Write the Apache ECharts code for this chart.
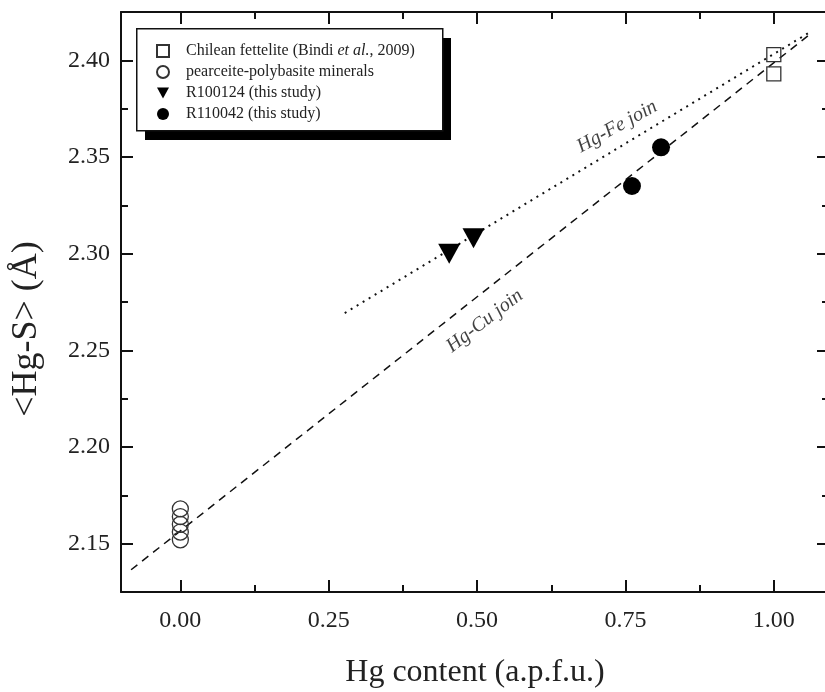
<!DOCTYPE html>
<html lang="en">
<head>
    <meta charset="UTF-8">
    <script src="https://cdn.jsdelivr.net/npm/echarts@6/dist/echarts.min.js"></script>
    <title>Hg-S bond length vs Hg content</title>
    <style>
        html, body { margin: 0; padding: 0; background: #fff; }
        #main { width: 825px; height: 692px; }
    </style>
</head>
<body>
    <div id="main"></div>
    <script>
        // data
        var fettelite = [[1.00, 2.403], [1.00, 2.393]];
        var pearceite = [[0, 2.152], [0, 2.156], [0, 2.160], [0, 2.164], [0, 2.168]];
        var r100124 = [[0.453, 2.300], [0.494, 2.308]];
        var r110042 = [[0.761, 2.335], [0.810, 2.355]];
        var feJoin = [[0.277, 2.2693], [1.061, 2.4146]];
        var cuJoin = [[-0.083, 2.1365], [1.061, 2.4135]];
        var joinLabels = [
            { text: 'Hg-Fe join', x: 0.736, y: 2.3657, angle: 29 },
            { text: 'Hg-Cu join', x: 0.513, y: 2.2652, angle: 37.5 }
        ];

        var xRange = [-0.1, 1.093];
        var yRange = [2.125, 2.425];
        var xMajor = [0, 0.25, 0.5, 0.75, 1.0];
        var xMinor = [0.125, 0.375, 0.625, 0.875];
        var yMajor = [2.15, 2.20, 2.25, 2.30, 2.35, 2.40];
        var yMinor = [2.175, 2.225, 2.275, 2.325, 2.375];

        var serif = 'Liberation Serif';
        var names = ['Chilean fettelite (Bindi et al., 2009)', 'pearceite-polybasite minerals',
                     'R100124 (this study)', 'R110042 (this study)'];
        var downTriangle = 'path://M0,0 L20,0 L10,18 Z';

        var chart = echarts.init(document.getElementById('main'));

        function axisX(grid, pos, ticks, len, main) {
            return {
                type: 'value', gridIndex: grid, position: pos,
                min: xRange[0], max: xRange[1],
                axisLine: { show: main, onZero: false, lineStyle: { color: '#111', width: 2 } },
                axisTick: { show: true, inside: true, length: len, customValues: ticks,
                            lineStyle: { color: '#111', width: 2 } },
                axisLabel: { show: main && pos === 'bottom', customValues: ticks, margin: 17,
                             fontFamily: serif, fontSize: 24, color: '#222',
                             formatter: function (v) { return v.toFixed(2); } },
                splitLine: { show: false },
                name: (main && pos === 'bottom') ? 'Hg content (a.p.f.u.)' : '',
                nameLocation: 'middle', nameGap: 65,
                nameTextStyle: { fontFamily: serif, fontSize: 32, color: '#222' }
            };
        }

        function axisY(grid, pos, ticks, len, main) {
            return {
                type: 'value', gridIndex: grid, position: pos,
                min: yRange[0], max: yRange[1],
                axisLine: { show: main, onZero: false, lineStyle: { color: '#111', width: 2 } },
                axisTick: { show: true, inside: true, length: len, customValues: ticks,
                            lineStyle: { color: '#111', width: 2 } },
                axisLabel: { show: main && pos === 'left', customValues: ticks, margin: 11,
                             fontFamily: serif, fontSize: 24, color: '#222',
                             formatter: function (v) { return v.toFixed(2); } },
                splitLine: { show: false },
                name: (main && pos === 'left') ? '<Hg-S> (Å)' : '',
                nameLocation: 'middle', nameGap: 76, nameRotate: 90,
                nameTextStyle: { fontFamily: serif, fontSize: 36, color: '#222', padding: [0, 54, 0, 0] }
            };
        }

        var option = {
            animation: false,
            backgroundColor: '#fff',
            grid: [
                { left: 121, top: 12, width: 708, height: 580, outerBoundsMode: 'none' },
                { left: 121, top: 12, width: 708, height: 580, outerBoundsMode: 'none' }
            ],
            xAxis: [
                axisX(0, 'bottom', xMajor, 12, true),
                axisX(0, 'top', xMajor, 12, true),
                axisX(1, 'bottom', xMinor, 7, false),
                axisX(1, 'top', xMinor, 7, false)
            ],
            yAxis: [
                axisY(0, 'left', yMajor, 12, true),
                axisY(0, 'right', yMajor, 12, true),
                axisY(1, 'left', yMinor, 7, false),
                axisY(1, 'right', yMinor, 7, false)
            ],
            // legend frame with its hard black shadow
            graphic: [
                { type: 'rect', left: 145, top: 38, z: 10,
                  shape: { width: 306, height: 102 }, style: { fill: '#000' } },
                { type: 'rect', left: 136, top: 28, z: 11,
                  shape: { width: 306, height: 102 },
                  style: { fill: '#fff', stroke: '#111', lineWidth: 1.5 } }
            ],
            legend: {
                data: names,
                orient: 'vertical',
                left: 136, top: 28, z: 12,
                padding: [15, 0, 0, 20],
                itemGap: 5, itemWidth: 12, itemHeight: 12,
                selectedMode: false,
                textStyle: {
                    fontFamily: serif, fontSize: 16, lineHeight: 15, color: '#222', padding: [0, 0, 0, 12],
                    rich: { i: { fontFamily: serif, fontSize: 16, lineHeight: 15, fontStyle: 'italic', color: '#222' } }
                },
                formatter: function (n) {
                    return n === names[0] ? 'Chilean fettelite (Bindi {i|et al.}, 2009)' : n;
                }
            },
            series: [
                { name: 'Hg-Fe join', type: 'line', data: feJoin, symbol: 'none',
                  lineStyle: { color: '#111', width: 2, type: [2, 5] }, z: 1 },
                { name: 'Hg-Cu join', type: 'line', data: cuJoin, symbol: 'none',
                  lineStyle: { color: '#111', width: 1.5, type: [8, 6] }, z: 1 },
                { name: names[0], type: 'scatter', data: fettelite, symbol: 'rect', symbolSize: 14,
                  itemStyle: { color: 'rgba(255,255,255,0)', borderColor: '#333', borderWidth: 1.3, opacity: 1 }, z: 3 },
                { name: names[1], type: 'scatter', data: pearceite, symbol: 'circle', symbolSize: 16,
                  itemStyle: { color: 'rgba(255,255,255,0)', borderColor: '#333', borderWidth: 1.3, opacity: 1 }, z: 3 },
                { name: names[2], type: 'scatter', data: r100124, symbol: downTriangle,
                  symbolSize: [22, 20], itemStyle: { color: '#000', opacity: 1 }, z: 3 },
                { name: names[3], type: 'scatter', data: r110042, symbol: 'circle', symbolSize: 18,
                  itemStyle: { color: '#000', opacity: 1 }, z: 3 },
                { name: 'join labels', type: 'scatter', symbolSize: 0, silent: true,
                  data: joinLabels.map(function (d) {
                      return { value: [d.x, d.y], name: d.text,
                               label: { rotate: d.angle } };
                  }),
                  label: { show: true, position: 'inside', formatter: '{b}',
                           fontFamily: serif, fontSize: 20, fontStyle: 'italic', color: '#111' } }
            ]
        };

        chart.setOption(option);
    </script>
</body>
</html>
